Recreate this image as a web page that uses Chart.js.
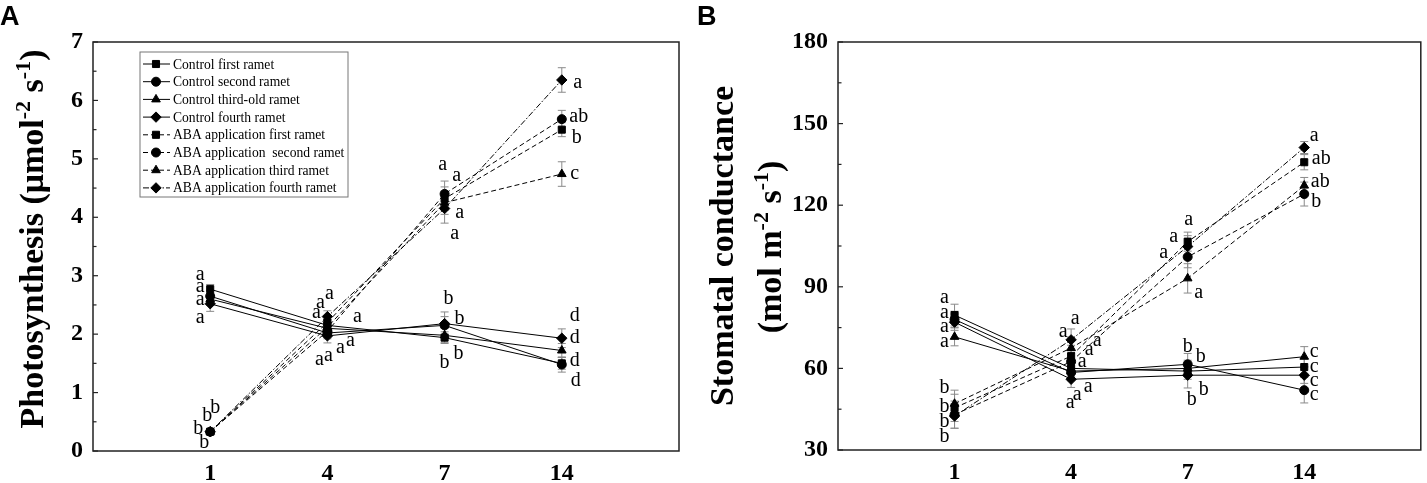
<!DOCTYPE html>
<html><head><meta charset="utf-8">
<script src="https://cdn.jsdelivr.net/npm/chart.js@4.4.0/dist/chart.umd.min.js"></script>
<style>
html,body{margin:0;padding:0;background:#fff;width:1427px;height:483px;overflow:hidden}
canvas{position:absolute;top:0}
#cA{left:0}
#cB{left:695px}
</style></head><body>
<canvas id="cA" width="695" height="483"></canvas>
<canvas id="cB" width="732" height="483"></canvas>
<script>
// ---------- data ----------
const days = ['1', '4', '7', '14'];
const seriesNames = [
  'Control first ramet', 'Control second ramet', 'Control third-old ramet', 'Control fourth ramet',
  'ABA application first ramet', 'ABA application  second ramet', 'ABA application third ramet', 'ABA application fourth ramet'
];

// Panel A: photosynthesis
const photoCtrl1 = [2.77, 2.15, 1.94, 1.50];
const photoCtrl2 = [2.65, 2.02, 2.15, 1.48];
const photoCtrl3 = [2.60, 2.10, 1.98, 1.72];
const photoCtrl4 = [2.52, 1.97, 2.18, 1.93];
const photoAba1 = [0.33, 2.20, 4.32, 5.50];
const photoAba2 = [0.33, 2.05, 4.40, 5.68];
const photoAba3 = [0.33, 2.12, 4.25, 4.74];
const photoAba4 = [0.33, 2.30, 4.15, 6.35];
const photoErrCtrl1 = [0.08, 0.10, 0.10, 0.10];
const photoErrCtrl2 = [0.10, 0.10, 0.15, 0.13];
const photoErrCtrl3 = [0.10, 0.10, 0.12, 0.12];
const photoErrCtrl4 = [0.13, 0.12, 0.20, 0.16];
const photoErrAba1 = [0.05, 0.10, 0.20, 0.12];
const photoErrAba2 = [0.05, 0.10, 0.22, 0.15];
const photoErrAba3 = [0.05, 0.10, 0.20, 0.21];
const photoErrAba4 = [0.05, 0.10, 0.25, 0.21];
const photoLetCtrl = [['a','a','b','d'],['a','a','b','d'],['a','a','b','d'],['a','a','b','d']];
const photoLetAba = [['b','a','a','b'],['b','a','a','ab'],['b','a','a','c'],['b','a','a','a']];
const photoYTicks = [0, 1, 2, 3, 4, 5, 6, 7];

// Panel B: stomatal conductance
const condCtrl1 = [79.6, 60.0, 59.0, 60.5];
const condCtrl2 = [78.0, 58.5, 61.5, 52.0];
const condCtrl3 = [71.6, 59.0, 60.0, 64.3];
const condCtrl4 = [77.0, 56.0, 57.5, 57.5];
const condAba1 = [45.5, 64.5, 106.6, 135.8];
const condAba2 = [43.0, 62.5, 101.0, 124.1];
const condAba3 = [47.0, 67.5, 93.1, 127.2];
const condAba4 = [42.5, 70.5, 104.8, 141.2];
const condErrCtrl1 = [4.0, 3.0, 3.0, 3.0];
const condErrCtrl2 = [3.0, 3.0, 4.0, 4.7];
const condErrCtrl3 = [3.3, 3.0, 3.0, 3.7];
const condErrCtrl4 = [3.0, 3.0, 4.7, 3.0];
const condErrAba1 = [5.0, 4.0, 3.5, 2.8];
const condErrAba2 = [5.0, 4.0, 4.0, 4.4];
const condErrAba3 = [5.0, 4.0, 5.4, 3.0];
const condErrAba4 = [4.5, 4.0, 4.0, 2.2];
const condLetCtrl = [['a','a','b','c'],['a','a','b','c'],['a','a','b','c'],['a','a','b','c']];
const condLetAba = [['b','a','a','ab'],['b','a','a','b'],['b','a','a','ab'],['b','a','a','a']];
const condYTicks = [30, 60, 90, 120, 150, 180];

// ---------- styling (letter offsets in px relative to markers) ----------
const photoLetOffsets = [
  [[-10,-14],[23,15],[0,25],[13,-3]],
  [[-10,-9],[13,15],[15,-7],[14,16]],
  [[-10,1],[1,27],[14,18],[13,-35]],
  [[-10,14],[-8,24],[4,-25],[13,0]],
  [[-12,-3],[-7,-20],[12,-23],[15,8]],
  [[-3,-16],[30,-14],[-2,-29],[17,-2]],
  [[5,-24],[-11,-14],[10,31],[13,0]],
  [[-6,11],[2,-23],[15,4],[16,3]]
];
const condLetOffsets = [
  [[-10,-17],[11,-7],[16,19],[10,0]],
  [[-10,-7],[6,22],[0,-18],[10,5]],
  [[-10,5],[17,16],[13,-12],[10,-5]],
  [[-10,5],[-1,23],[4,25],[10,6]],
  [[-10,-1],[26,-15],[1,-22],[17,-3]],
  [[-10,7],[18,-12],[-24,-4],[12,8]],
  [[-10,-16],[-8,-16],[11,14],[16,-4]],
  [[-10,21],[4,-21],[-14,-10],[10,-12]]
];
const shapes = ['rect', 'circle', 'triangle', 'rectRot'];
const radii = {rect: 5, circle: 4.5, triangle: 5, rectRot: 5.2};
const dashes = [[], [], [], [], [5, 3], [5, 3], [5, 3], [6, 2, 1.5, 2]];
const SERIF = '"Liberation Serif", "Times New Roman", serif';

function makeDatasets(vals, errs, lets, offs) {
  return vals.map((v, k) => {
    const st = shapes[k % 4];
    return {
      label: seriesNames[k],
      data: v.map((y, i) => ({x: i + 1, y: y})),
      errors: errs[k], letters: lets[k], letOffsets: offs[k],
      borderColor: '#000', backgroundColor: '#000', borderWidth: 1,
      borderDash: dashes[k],
      pointStyle: st, pointRadius: radii[st], pointBackgroundColor: '#000',
      pointBorderColor: '#000', pointBorderWidth: 1, tension: 0, fill: false
    };
  });
}

const decorPlugin = {
  id: 'decor',
  beforeDatasetsDraw(chart) {
    const ctx = chart.ctx, ys = chart.scales.y;
    ctx.save();
    ctx.strokeStyle = '#8a8a8a'; ctx.lineWidth = 1;
    chart.data.datasets.forEach((ds, k) => {
      const meta = chart.getDatasetMeta(k);
      meta.data.forEach((el, i) => {
        const v = ds.data[i].y, e = ds.errors[i];
        const t = ys.getPixelForValue(v + e), b = ys.getPixelForValue(v - e);
        ctx.beginPath();
        ctx.moveTo(el.x, t); ctx.lineTo(el.x, b);
        ctx.moveTo(el.x - 4, t); ctx.lineTo(el.x + 4, t);
        ctx.moveTo(el.x - 4, b); ctx.lineTo(el.x + 4, b);
        ctx.stroke();
      });
    });
    ctx.restore();
  },
  afterDatasetsDraw(chart, args, opts) {
    const ctx = chart.ctx, a = chart.chartArea, ys = chart.scales.y;
    ctx.save();
    // frame
    ctx.strokeStyle = '#222'; ctx.lineWidth = 1.5;
    ctx.strokeRect(a.left, a.top, a.right - a.left, a.bottom - a.top);
    // inward ticks (major + minor)
    ctx.lineWidth = 1.2;
    const step = opts.minorStep;
    for (let v = ys.min; v <= ys.max + 1e-9; v += step) {
      const y = ys.getPixelForValue(v);
      const major = Math.abs((v - ys.min) / (step * 2) - Math.round((v - ys.min) / (step * 2))) < 1e-6;
      ctx.beginPath(); ctx.moveTo(a.left, y); ctx.lineTo(a.left + (major ? 5 : 3.5), y); ctx.stroke();
    }
    // letters
    ctx.fillStyle = '#000';
    ctx.font = '20px ' + SERIF;
    ctx.textAlign = 'center'; ctx.textBaseline = 'middle';
    chart.data.datasets.forEach((ds, k) => {
      const meta = chart.getDatasetMeta(k);
      meta.data.forEach((el, i) => {
        const o = ds.letOffsets[i];
        ctx.fillText(ds.letters[i], el.x + o[0], el.y + o[1]);
      });
    });
    // y titles
    ctx.textAlign = 'left'; ctx.textBaseline = 'alphabetic';
    opts.titles.forEach(t => {
      ctx.save();
      ctx.translate(t.x, t.y);
      ctx.rotate(-Math.PI / 2);
      let w = 0;
      t.segs.forEach(s => { ctx.font = 'bold ' + (s.sup ? 22 : 34) + 'px ' + SERIF; s.w = ctx.measureText(s.t).width; w += s.w; });
      let cx = -w / 2;
      t.segs.forEach(s => { ctx.font = 'bold ' + (s.sup ? 22 : 34) + 'px ' + SERIF; ctx.fillText(s.t, cx, s.sup ? -13 : 0); cx += s.w; });
      ctx.restore();
    });
    // panel letter
    ctx.font = 'bold 27px "Liberation Sans", Arial, sans-serif';
    ctx.fillText(opts.panel, opts.panelX, 25);
    // legend
    if (opts.legend) {
      const lx = a.left + 47, ly = a.top + 10;
      ctx.strokeStyle = '#777'; ctx.lineWidth = 1;
      ctx.strokeRect(lx, ly, 208, 145);
      ctx.font = '13.6px ' + SERIF; ctx.textBaseline = 'middle'; ctx.textAlign = 'left';
      chart.data.datasets.forEach((ds, k) => {
        const y = ly + 12 + k * 17.7;
        ctx.save();
        ctx.strokeStyle = '#000'; ctx.lineWidth = 1; ctx.setLineDash(ds.borderDash);
        ctx.beginPath(); ctx.moveTo(lx + 3, y); ctx.lineTo(lx + 30, y); ctx.stroke();
        ctx.restore();
        ctx.fillStyle = '#000'; ctx.strokeStyle = '#000';
        Chart.helpers.drawPoint(ctx, {pointStyle: ds.pointStyle, radius: ds.pointRadius, rotation: 0, borderWidth: 1}, lx + 16, y);
        ctx.fillText(ds.label, lx + 33, y + 1);
      });
    }
    ctx.restore();
  }
};

function makeChart(id, datasets, ymin, ymax, ystep, yTicks, yWidth, xHeight, pad, decor) {
  return new Chart(document.getElementById(id), {
    type: 'line',
    data: {datasets: datasets},
    plugins: [decorPlugin],
    options: {
      responsive: false, animation: false,
      layout: {padding: pad},
      plugins: {legend: {display: false}, tooltip: {enabled: false}, decor: decor},
      scales: {
        x: {
          type: 'linear', min: 0, max: days.length + 1,
          grid: {display: false, drawTicks: false}, border: {display: false},
          afterBuildTicks: s => { s.ticks = days.map((d, i) => ({value: i + 1})); },
          afterFit: s => { s.height = xHeight; },
          ticks: {autoSkip: false, maxRotation: 0, padding: 8, color: '#000',
            font: {family: SERIF, size: 24, weight: 'bold'},
            callback: v => days[v - 1]}
        },
        y: {
          min: ymin, max: ymax,
          grid: {display: false, drawTicks: false}, border: {display: false},
          afterBuildTicks: s => { s.ticks = yTicks.map(v => ({value: v})); },
          afterFit: s => { s.width = yWidth; },
          ticks: {padding: 10, color: '#000', font: {family: SERIF, size: 24, weight: 'bold'}}
        }
      }
    }
  });
}

makeChart('cA',
  makeDatasets([photoCtrl1, photoCtrl2, photoCtrl3, photoCtrl4, photoAba1, photoAba2, photoAba3, photoAba4],
    [photoErrCtrl1, photoErrCtrl2, photoErrCtrl3, photoErrCtrl4, photoErrAba1, photoErrAba2, photoErrAba3, photoErrAba4],
    photoLetCtrl.concat(photoLetAba), photoLetOffsets),
  0, 7, 1, photoYTicks, 93, 32, {top: 42, right: 16, bottom: 0, left: 0},
  {minorStep: 0.5, panel: 'A', panelX: 0, legend: true,
   titles: [{x: 43, y: 239, segs: [{t: 'Photosynthesis (\u03bcmol'}, {t: '-2', sup: true}, {t: ' s'}, {t: '-1', sup: true}, {t: ')'}]}]});

makeChart('cB',
  makeDatasets([condCtrl1, condCtrl2, condCtrl3, condCtrl4, condAba1, condAba2, condAba3, condAba4],
    [condErrCtrl1, condErrCtrl2, condErrCtrl3, condErrCtrl4, condErrAba1, condErrAba2, condErrAba3, condErrAba4],
    condLetCtrl.concat(condLetAba), condLetOffsets),
  30, 180, 30, condYTicks, 143, 33, {top: 42, right: 5, bottom: 0, left: 0},
  {minorStep: 15, panel: 'B', panelX: 2, legend: false,
   titles: [{x: 38, y: 246, segs: [{t: 'Stomatal conductance'}]},
            {x: 86, y: 247, segs: [{t: '(mol m'}, {t: '-2', sup: true}, {t: ' s'}, {t: '-1', sup: true}, {t: ')'}]}]});
</script>
</body></html>
